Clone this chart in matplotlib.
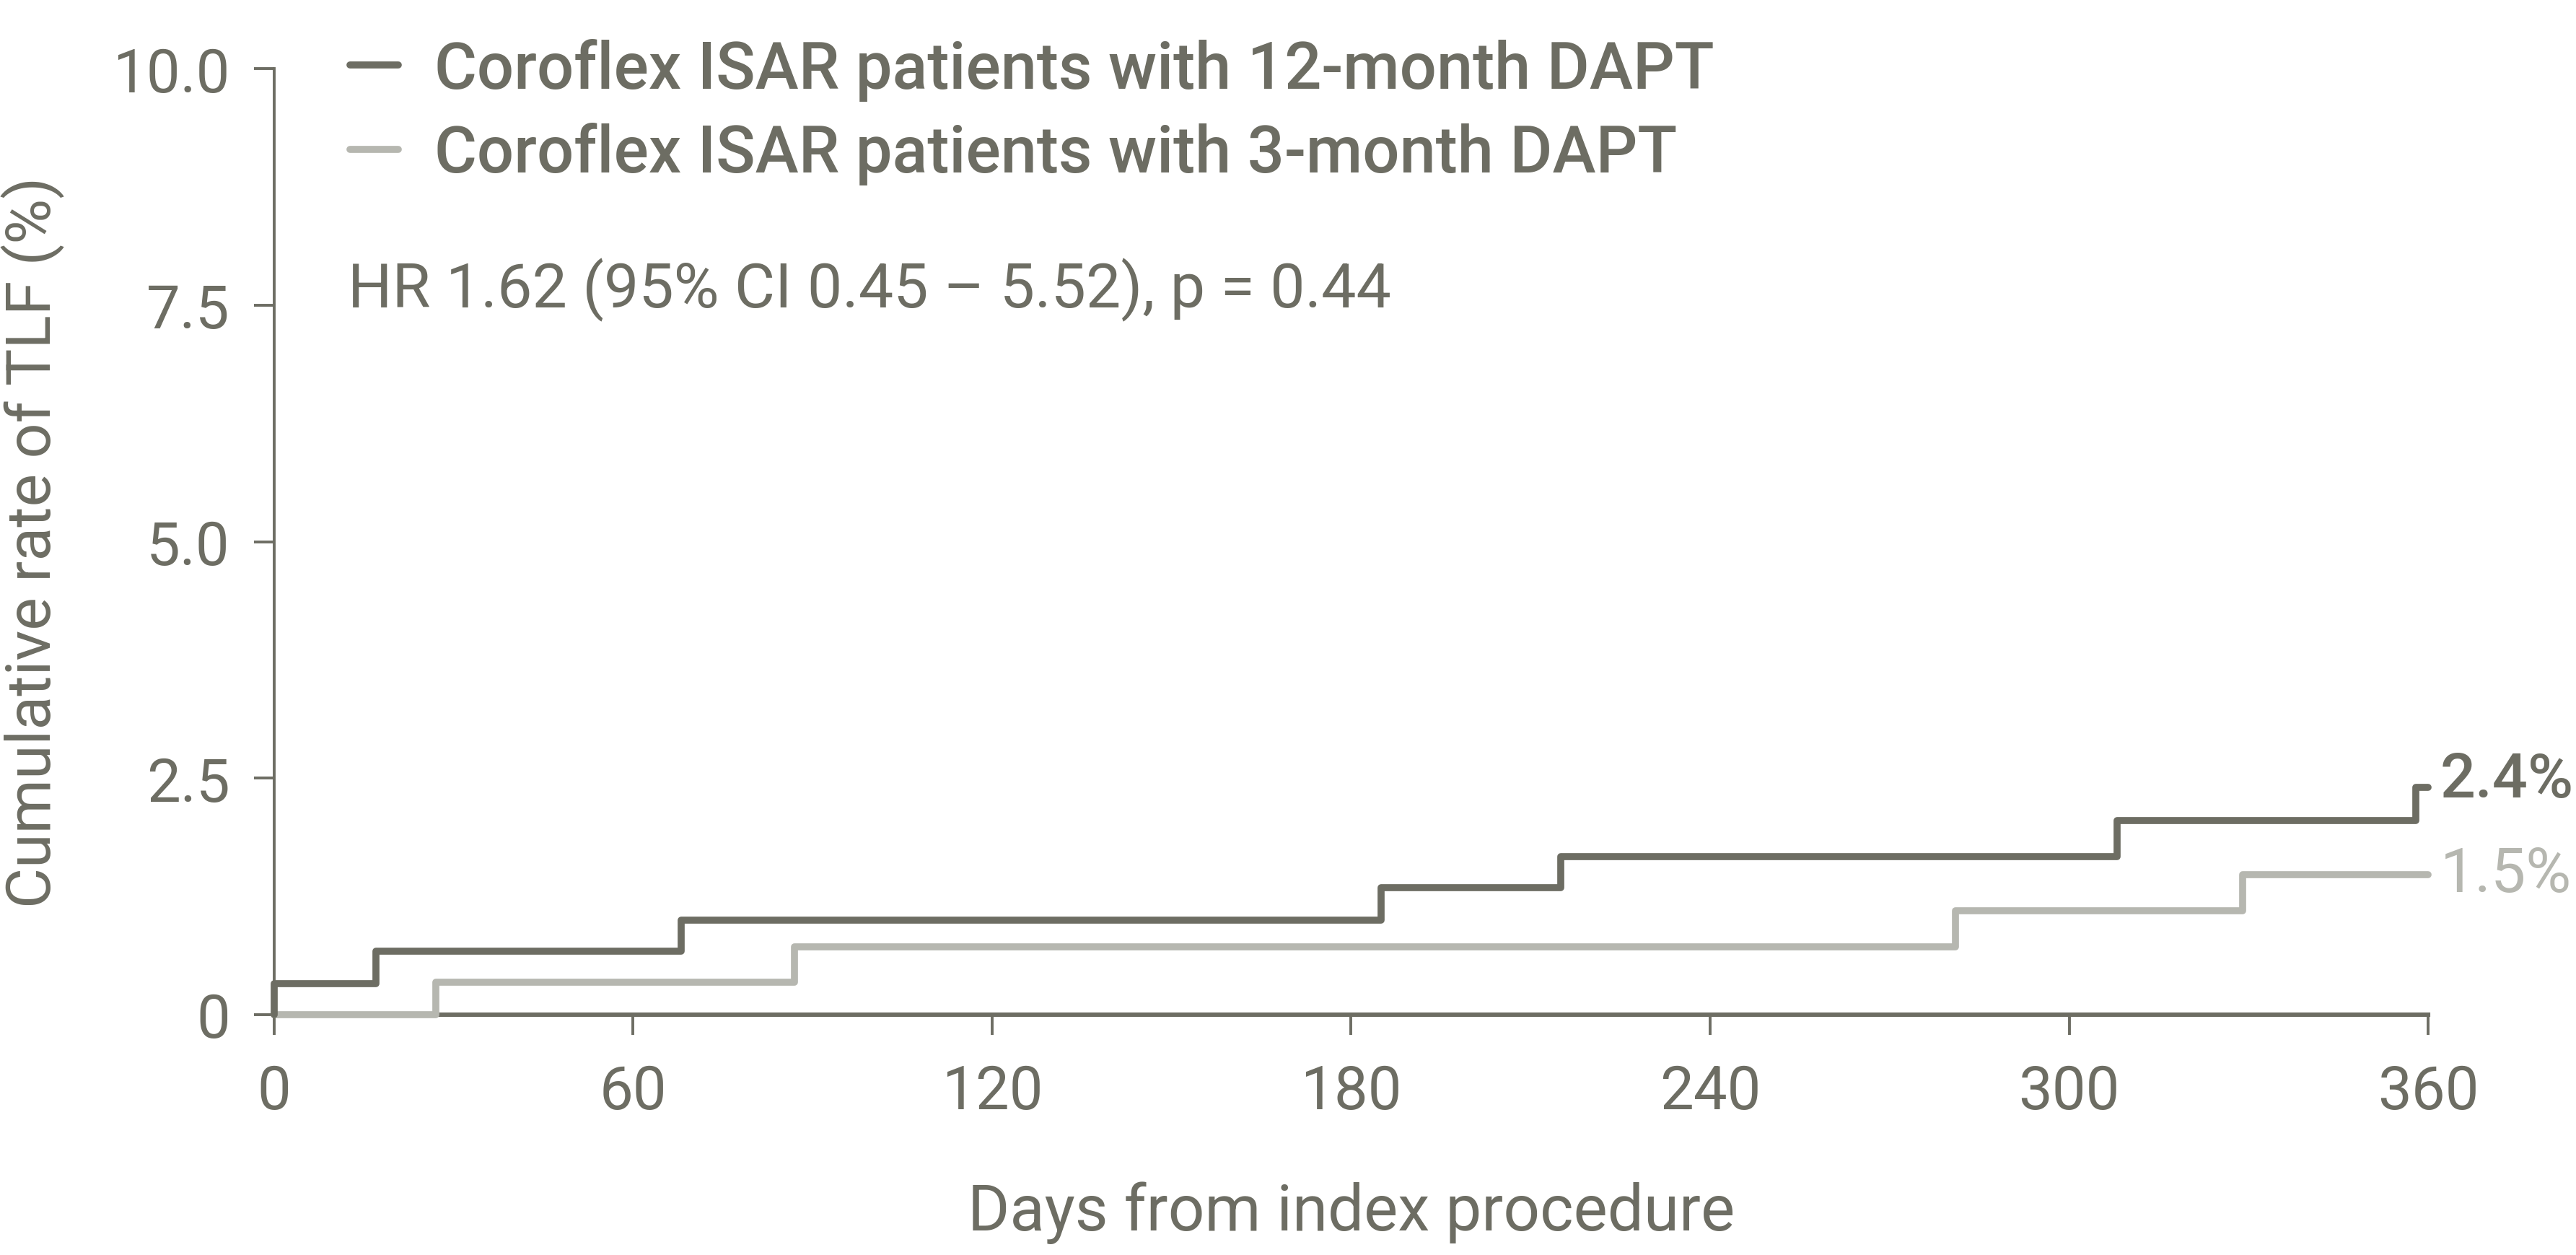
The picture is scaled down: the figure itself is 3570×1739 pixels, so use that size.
import numpy as np
import matplotlib
matplotlib.use("Agg")
import matplotlib.pyplot as plt

#--- data ---#
days_12m = [0, 0, 17, 68, 185, 215, 308, 358, 360]
rate_12m = [0, 0.33, 0.67, 1.0, 1.34, 1.67, 2.05, 2.4, 2.4]
days_3m = [0, 27, 87, 281, 329, 360]
rate_3m = [0, 0.34, 0.72, 1.10, 1.48, 1.48]

labels = ["Coroflex ISAR patients with 12-month DAPT",
          "Coroflex ISAR patients with 3-month DAPT"]
end_labels = ["2.4%", "1.5%"]
hr_text = "HR 1.62 (95% CI 0.45 \u2013 5.52), p = 0.44"
x_ticks = [0, 60, 120, 180, 240, 300, 360]
y_ticks = [0, 2.5, 5.0, 7.5, 10.0]
y_ticklabels = ["0", "2.5", "5.0", "7.5", "10.0"]

#--- style ---#
dark = "#6d6d63"
light = "#b6b7b0"
plt.rcParams["font.family"] = ["Roboto", "DejaVu Sans"]

fig = plt.figure(figsize=(17.85, 8.7), dpi=200, facecolor="w")
ax = fig.add_axes([0.1064, 0.1914, 0.9426 - 0.1064, 0.9448 - 0.1914])

ax.plot(days_12m, rate_12m, drawstyle="steps-post", color=dark, lw=3.5,
        solid_joinstyle="round", solid_capstyle="round", label=labels[0],
        zorder=4, clip_on=False)
ax.plot(days_3m, rate_3m, drawstyle="steps-post", color=light, lw=3.5,
        solid_joinstyle="round", solid_capstyle="round", label=labels[1],
        zorder=3, clip_on=False)

ax.set_xlim(0, 360)
ax.set_ylim(0, 10)
ax.set_xticks(x_ticks)
ax.set_yticks(y_ticks)
ax.set_yticklabels(y_ticklabels)

for s in ["top", "right"]:
    ax.spines[s].set_visible(False)
ax.spines["left"].set_color(dark)
ax.spines["left"].set_linewidth(1.4)
ax.spines["bottom"].set_color(dark)
ax.spines["bottom"].set_linewidth(2.2)
ax.tick_params(axis="both", colors=dark, labelsize=30, width=1.4)
ax.tick_params(axis="y", length=10, pad=12)
ax.tick_params(axis="x", length=10, pad=14)

ax.set_xlabel("Days from index procedure", fontsize=32, color=dark, labelpad=30)
ax.set_ylabel("Cumulative rate of TLF (%)", fontsize=31, color=dark, labelpad=24)

# end-of-curve labels
ax.annotate(end_labels[0], xy=(360, rate_12m[-1]), xytext=(6, 4),
            textcoords="offset points", fontsize=31, color=dark,
            fontweight="medium", va="center", ha="left", annotation_clip=False)
ax.annotate(end_labels[1], xy=(360, rate_3m[-1]), xytext=(6, 0),
            textcoords="offset points", fontsize=31, color=light,
            va="center", ha="left", annotation_clip=False)

ax.text(0.0343, 0.767, hr_text, transform=ax.transAxes, fontsize=31,
        color=dark, va="center", ha="left")

leg = ax.legend(loc="upper left", bbox_to_anchor=(0.023, 1.06), frameon=False,
                prop={"size": 32.5, "weight": "medium"}, handlelength=0.75,
                handletextpad=0.55, labelspacing=0.33, borderaxespad=0)
for t in leg.get_texts():
    t.set_color(dark)
for h in leg.get_lines():
    h.set_linewidth(3.5)

fig.savefig("out.png", dpi=200, facecolor="w")
